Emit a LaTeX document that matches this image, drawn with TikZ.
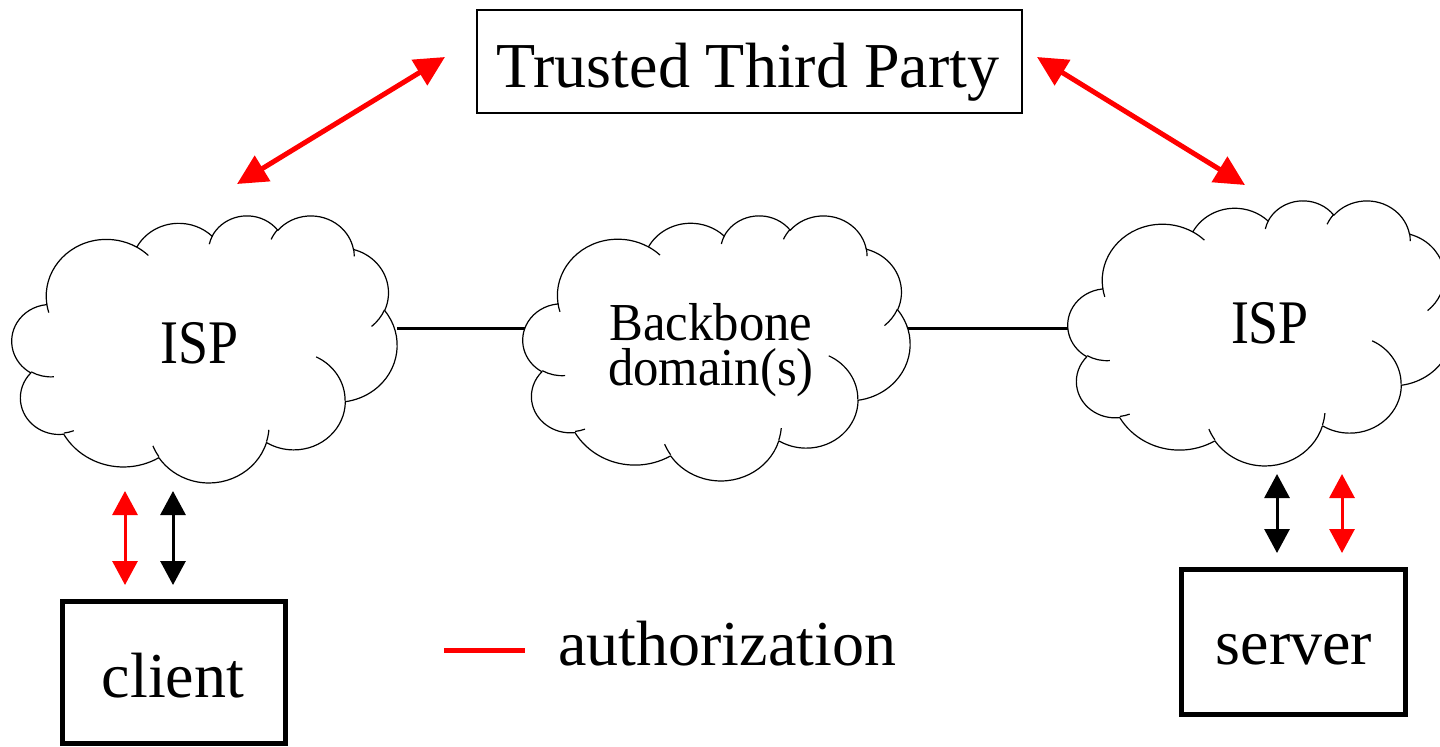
\documentclass[tikz,border=0pt]{standalone}
\usepackage{fontspec}
\setmainfont{Liberation Serif}
\usetikzlibrary{arrows.meta}
\newcommand\fsz[2]{\fontsize{#1}{#2}\selectfont}
% ---- MS Office style cloud (43200 box scaled to 432) ----
\newcommand\cloudouter{}
\newcommand\cloudinner{}
\newcommand\addarc[5]{%
  \pgfmathsetmacro\arcS{#4}%
  \pgfmathsetmacro\arcE{#4+#5}%
  \pgfmathsetmacro\arcTS{atan2(#2*sin(\arcS),#3*cos(\arcS))}%
  \pgfmathsetmacro\arcTE{atan2(#2*sin(\arcE),#3*cos(\arcE))}%
  \pgfmathsetmacro\arcD{(\arcTE-\arcTS-(#5))/360}%
  \pgfmathsetmacro\arcTE{\arcTE-360*round(\arcD)}%
  \xdef#1{#1 arc[start angle=\arcTS, end angle=\arcTE, x radius=#2, y radius=#3]}%
}
\newcommand\addinner[6]{%
  \xdef\cloudinner{\cloudinner (#1,#2)}%
  \addarc\cloudinner{#3}{#4}{#5}{#6}%
}
\addarc\cloudouter{67.53}{91.90}{-190.48748}{123.78053}
\addarc\cloudouter{53.33}{72.67}{-144.10238}{89.94523}
\addarc\cloudouter{43.65}{59.45}{-145.80792}{99.72302}
\addarc\cloudouter{48.57}{65.95}{-130.98607}{117.24173}
\addarc\cloudouter{53.33}{72.73}{-78.70888}{109.02692}
\addarc\cloudouter{67.75}{92.20}{-46.26725}{130.269}
\addarc\cloudouter{57.85}{78.67}{0.62502}{114.03333}
\addarc\cloudouter{67.52}{92.15}{22.4516}{115.17255}
\addarc\cloudouter{77.20}{105.43}{66.24263}{75.71102}
\addarc\cloudouter{43.60}{59.18}{-274.94208}{146.73557}
\addarc\cloudouter{43.45}{59.45}{-246.8285}{152.51885}
\addinner{46.93}{261.77}{43.45}{59.45}{86.742}{26.4295}
\addinner{69.28}{348.99}{43.60}{59.18}{73.61047}{11.44747}
\addinner{164.78}{390.90}{67.52}{92.15}{137.62415}{14.0811}
\addinner{288.27}{347.51}{67.52}{92.15}{6.45327}{15.99835}
\addinner{341.29}{229.54}{57.85}{78.67}{-70.29235}{70.91737}
\addinner{417.98}{153.54}{53.33}{72.73}{30.31803}{27.7515}
\addinner{383.24}{54.26}{48.57}{65.95}{-13.74433}{14.8589}
\addinner{290.78}{39.52}{48.57}{65.95}{-149.18145}{18.19537}
\addinner{221.41}{47.20}{43.65}{59.45}{-163.49427}{17.68635}
\addinner{140.00}{51.92}{67.53}{91.90}{-66.70695}{12.31935}
\addinner{41.27}{157.89}{67.53}{91.90}{157.65435}{11.85817}
\tikzset{
  cloudline/.style={draw=black, line width=0.6pt, line join=round},
  thinbox/.style={draw=black, line width=0.75pt, inner sep=0pt},
  bigbox/.style={draw=black, line width=2.5pt, inner sep=0pt},
  txt/.style={inner sep=0pt, font=\fsz{32pt}{38pt}},
  cloudtxt/.style={inner sep=0pt, font=\fsz{31pt}{36pt}},
  diagarrow/.style={draw=red, line width=2.5pt,
     {Triangle[length=15pt,width=14.5pt]}-{Triangle[length=15pt,width=14.5pt]}},
  varrow/.style={line width=1.5pt,
     {Triangle[length=12pt,width=12.5pt]}-{Triangle[length=12pt,width=12.5pt]}},
  link/.style={draw=black, line width=1.5pt},
  legendline/.style={draw=red, line width=2.5pt}
}
\newcommand\drawcloud[4]{%
  \pgfmathsetmacro\cux{#3/864}%
  \pgfmathsetmacro\cuy{#4/864}%
  \begin{scope}[shift={(#1,#2)}, x=\cux pt, y=-\cuy pt]
    \draw[cloudline, fill=white] (39,143.7) \cloudouter -- cycle;
    \draw[cloudline] \cloudinner;
  \end{scope}
}
\begin{document}
\begin{tikzpicture}[x=0.5pt, y=-0.5pt]
\useasboundingbox (0,0) rectangle (1440,746);
% connections between clouds (drawn first)
\coordinate (ispLe) at (397,328);
\coordinate (bbW) at (527,328);
\coordinate (bbE) at (908,328);
\coordinate (ispRw) at (1070,328);
\draw[link] (ispLe) -- (bbW);
\draw[link] (bbE) -- (ispRw);
% clouds
\drawcloud{12}{215}{385}{267}
\drawcloud{523}{215}{387}{265}
\drawcloud{1068}{200}{385}{265}
\node[cloudtxt, anchor=base] (ispL) at (199.5,363) {\scalebox{0.87}[1]{ISP}};
\node[cloudtxt, anchor=base] (ispR) at (1270,343) {\scalebox{0.87}[1]{ISP}};
\node[inner sep=0pt, align=center, font=\fsz{26.7pt}{22.3pt}] (bb) at (711,350)
  {\scalebox{0.95}[1]{Backbone}\\\scalebox{0.95}[1]{domain(s)}};
% trusted third party
\node[thinbox, minimum width=272.5pt, minimum height=51.5pt] (ttp) at (749.5,61.5) {};
\node[txt, anchor=base] (ttptext) at (748,87.5) {Trusted Third Party};
% client and server
\node[bigbox, minimum width=111.5pt, minimum height=71pt] (client) at (174,672.5) {};
\node[txt, anchor=base] (clienttext) at (173,697) {client};
\node[bigbox, minimum width=111.75pt, minimum height=72.25pt] (server) at (1293.25,641.75) {};
\node[txt, anchor=base] (servertext) at (1294,664) {server};
% authorization arrows to TTP
\coordinate (dl1) at (237,184);
\coordinate (dl2) at (445,57);
\coordinate (dr1) at (1037,57);
\coordinate (dr2) at (1245,185);
\draw[diagarrow] (dl1) -- (dl2);
\draw[diagarrow] (dr1) -- (dr2);
% vertical arrows
\coordinate (cr1) at (125,491); \coordinate (cr2) at (125,585);
\coordinate (cb1) at (173,491); \coordinate (cb2) at (173,585);
\coordinate (sb1) at (1277,474); \coordinate (sb2) at (1277,553);
\coordinate (sr1) at (1342,474); \coordinate (sr2) at (1342,553);
\draw[varrow, draw=red, fill=red] (cr1) -- (cr2);
\draw[varrow, draw=black, fill=black] (cb1) -- (cb2);
\draw[varrow, draw=black, fill=black] (sb1) -- (sb2);
\draw[varrow, draw=red, fill=red] (sr1) -- (sr2);
% legend
\coordinate (lg1) at (444,650);
\coordinate (lg2) at (525,650);
\draw[legendline] (lg1) -- (lg2);
\node[txt, anchor=base west] (legtext) at (558,665) {authorization};
\end{tikzpicture}
\end{document}
